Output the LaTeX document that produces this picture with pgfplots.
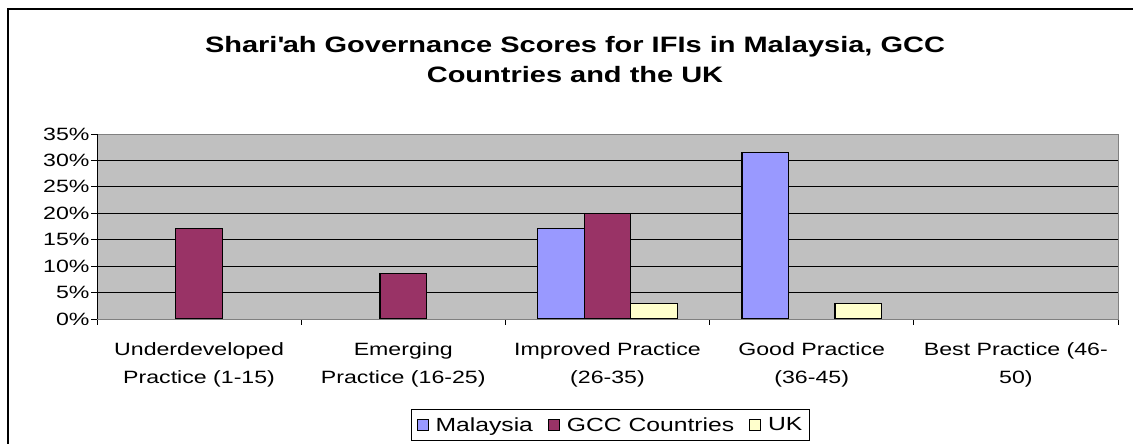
\documentclass[border=0pt]{standalone}
\usepackage{fontspec}
\setmainfont{Liberation Sans}[FakeStretch=1.3]
\usepackage{pgfplots}
\pgfplotsset{compat=1.18}
\definecolor{malay}{HTML}{9999FF}
\definecolor{gcc}{HTML}{993366}
\definecolor{uk}{HTML}{FFFFCC}
\definecolor{plotbg}{HTML}{C0C0C0}
\begin{document}
\begin{tikzpicture}[x=1pt,y=1pt]
\useasboundingbox (0,0) rectangle (1133,444);
\draw[line width=1.5pt] (8,-20) -- (8,435) -- (1150,435);
\node[font=\bfseries\fontsize{22.3}{30}\selectfont, align=center] at (575,384) {Shari\textquotesingle ah Governance Scores for IFIs in Malaysia, GCC\\Countries and the UK};
\begin{axis}[
  at={(97pt,125pt)}, anchor=south west, scale only axis,
  width=1021pt, height=185pt,
  ybar=0pt, bar width=46.5pt,
  xmin=-0.5, xmax=4.5, ymin=0, ymax=35,
  xtick={0,1,2,3,4},
  xticklabels={Underdeveloped\\Practice (1-15), Emerging\\Practice (16-25), Improved Practice\\(26-35), Good Practice\\(36-45), Best Practice (46-\\50)},
  major x tick style={draw=none},
  minor xtick={-0.5,0.5,1.5,2.5,3.5,4.5},
  minor x tick style={black, line width=0.8pt},
  minor tick length=6pt, major tick length=6pt,
  xtick pos=bottom, ytick pos=left,
  ytick={0,5,...,35},
  yticklabel={\pgfmathprintnumber{\tick}\%},
  /pgf/number format/assume math mode=true,
  tick align=outside,
  ytick style={black, line width=0.8pt},
  ticklabel style={font=\fontsize{17.8}{28}\selectfont},
  xticklabel style={align=center, yshift=-14pt},
  yticklabel style={xshift=2pt},
  axis background/.style={fill=plotbg},
  ymajorgrids, major grid style={black, line width=0.8pt},
  axis line style={draw=gray, line width=0.8pt},
  legend columns=3,
  legend style={at={(0.503,-0.573)}, anchor=center, draw=black, line width=0.6pt,
    font=\fontsize{19}{21}\selectfont, inner xsep=5pt, inner ysep=6pt,
    /tikz/every odd column/.append style={column sep=5pt},
    /tikz/every even column/.append style={column sep=13pt}},
  legend image code/.code={\draw[#1, line width=0.8pt] (0pt,-5pt) rectangle (11pt,6pt);},
  every axis plot/.append style={draw=black, line width=1.2pt},
]
\addplot[fill=malay] coordinates {(2,17.14) (3,31.43)};
\addplot[fill=gcc] coordinates {(0,17.14) (1,8.57) (2,20)};
\addplot[fill=uk] coordinates {(2,2.86) (3,2.86)};
\legend{Malaysia, GCC Countries, UK}
\draw[black, line width=0.8pt] (rel axis cs:0,0) -- (rel axis cs:0,1);
\draw[black, line width=0.8pt] (rel axis cs:0,0) -- (rel axis cs:1,0);
\end{axis}
\end{tikzpicture}
\end{document}
